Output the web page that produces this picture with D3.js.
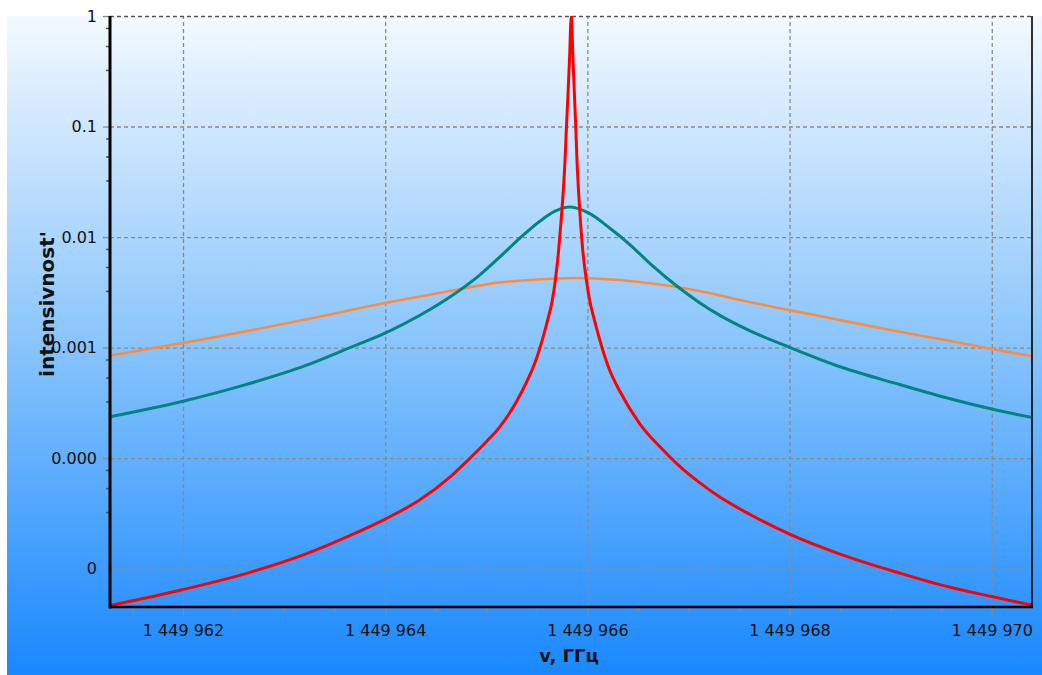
<!DOCTYPE html>
<html><head><meta charset="utf-8">
<script src="https://cdn.jsdelivr.net/npm/d3@7"></script>
<style>html,body{margin:0;padding:0;background:#fff;} svg{display:block}</style>
</head><body><svg id="c" width="1042" height="675"></svg>
<script>
// ---- data ----
const xMajorTicks = [1449962, 1449964, 1449966, 1449968, 1449970];
const xMinorTicks = [1449961.5, 1449962.5, 1449963, 1449963.5, 1449964.5, 1449965, 1449965.5,
  1449966.5, 1449967, 1449967.5, 1449968.5, 1449969, 1449969.5];
const yTicks = [1, 0.1, 0.01, 0.001, 0.0001, 0.00001];
const yTickLabels = ["1", "0.1", "0.01", "0.001", "0.000", "0"];
const yMinorFactors = [0.78, 0.535, 0.325];
const xDomain = [1449961.278, 1449970.398];
const yDomain = [4.49e-6, 1];
const xTitle = "v, ГГц";
const yTitle = "intensivnost'";

const orangeSeries = [
  [1449961.28, 8.47e-4], [1449962.00, 1.10e-3], [1449962.62, 1.40e-3], [1449963.21, 1.79e-3],
  [1449964.01, 2.54e-3], [1449964.64, 3.25e-3], [1449965.14, 3.89e-3], [1449965.43, 4.08e-3],
  [1449965.88, 4.26e-3], [1449966.32, 4.08e-3], [1449966.72, 3.72e-3], [1449967.11, 3.25e-3],
  [1449967.51, 2.69e-3], [1449968.00, 2.18e-3], [1449968.50, 1.77e-3], [1449969.09, 1.39e-3],
  [1449969.58, 1.15e-3], [1449970.00, 9.69e-4], [1449970.39, 8.38e-4]
];
const tealSeries = [
  [1449961.28, 2.365e-4], [1449962.00, 3.266e-4], [1449962.62, 4.617e-4], [1449963.21, 6.858e-4],
  [1449963.65, 9.98e-4], [1449964.01, 1.364e-3], [1449964.34, 1.948e-3], [1449964.64, 2.864e-3],
  [1449964.94, 4.578e-3], [1449965.14, 6.688e-3], [1449965.33, 9.73e-3], [1449965.53, 1.390e-2],
  [1449965.68, 1.712e-2], [1449965.83, 1.868e-2], [1449966.02, 1.635e-2], [1449966.22, 1.206e-2],
  [1449966.42, 8.55e-3], [1449966.62, 5.756e-3], [1449966.91, 3.455e-3], [1449967.11, 2.548e-3],
  [1449967.31, 1.956e-3], [1449967.61, 1.416e-3], [1449968.00, 1.004e-3], [1449968.50, 6.70e-4],
  [1449969.09, 4.627e-4], [1449969.58, 3.455e-4], [1449970.00, 2.776e-4], [1449970.39, 2.340e-4]
];
const redSeries = [
  [1449961.28, 4.627e-6], [1449962.00, 6.457e-6], [1449962.67, 9.297e-6], [1449963.21, 1.353e-5],
  [1449963.65, 1.989e-5], [1449964.01, 2.835e-5], [1449964.34, 4.168e-5], [1449964.64, 6.732e-5],
  [1449964.84, 1.0e-4], [1449965.04, 1.532e-4], [1449965.14, 1.948e-4], [1449965.35, 3.957e-4],
  [1449965.50, 8.120e-4], [1449965.607, 1.774e-3], [1449965.650, 2.580e-3], [1449965.685, 4.168e-3],
  [1449965.714, 7.316e-3], [1449965.739, 1.367e-2], [1449965.759, 2.399e-2], [1449965.779, 4.974e-2],
  [1449965.793, 9.90e-2], [1449965.808, 0.1928], [1449965.823, 0.3997], [1449965.841, 1.0],
  [1449965.858, 0.3997], [1449965.872, 0.1928], [1449965.885, 9.90e-2], [1449965.897, 4.974e-2],
  [1449965.915, 2.399e-2], [1449965.932, 1.367e-2], [1449965.956, 7.316e-3], [1449965.989, 4.168e-3],
  [1449966.026, 2.580e-3], [1449966.070, 1.774e-3], [1449966.22, 6.256e-4], [1449966.32, 4.039e-4],
  [1449966.52, 2.031e-4], [1449966.72, 1.257e-4], [1449966.91, 8.463e-5], [1449967.11, 6.0e-5],
  [1449967.31, 4.438e-5], [1449967.61, 3.082e-5], [1449968.00, 2.052e-5], [1449968.50, 1.353e-5],
  [1449969.09, 9.106e-6], [1449969.58, 6.802e-6], [1449970.00, 5.579e-6], [1449970.39, 4.675e-6]
];

// ---- chart ----
const L = 110, R = 1032, T = 16, B = 607;
const svg = d3.select("#c");
const x = d3.scaleLinear().domain(xDomain).range([L, R]);
const y = d3.scaleLog().domain(yDomain).range([B, T]);
const loc = d3.formatLocale({decimal: ".", thousands: " ", grouping: [3], currency: ["", ""]});
const fmtX = loc.format(",d");

const defs = svg.append("defs");
const grad = defs.append("linearGradient").attr("id", "bg")
  .attr("gradientUnits", "userSpaceOnUse").attr("x1", 0).attr("y1", 16).attr("x2", 0).attr("y2", 675);
grad.append("stop").attr("offset", 0).attr("stop-color", "#f3f9ff");
grad.append("stop").attr("offset", 0.5).attr("stop-color", "#88c4fb");
grad.append("stop").attr("offset", 1).attr("stop-color", "#1988fe");
defs.append("clipPath").attr("id", "plot").append("rect")
  .attr("x", L).attr("y", T).attr("width", R - L).attr("height", B - T);

svg.append("rect").attr("x", 7).attr("y", 16).attr("width", 1042 - 7).attr("height", 675 - 16).attr("fill", "url(#bg)");

// grid
const gridColor = "#8a8a8a";
const gx = svg.append("g").attr("transform", `translate(0,${B})`)
  .call(d3.axisBottom(x).tickValues(xMajorTicks).tickSize(-(B - T)).tickFormat(""));
gx.select(".domain").remove();
gx.selectAll("line").attr("stroke", gridColor).attr("stroke-width", 1.3).attr("stroke-dasharray", "4,3");
const gy = svg.append("g").attr("transform", `translate(${L},0)`)
  .call(d3.axisLeft(y).tickValues(yTicks).tickSize(-(R - L)).tickFormat(""));
gy.select(".domain").remove();
gy.selectAll("line").attr("stroke", gridColor).attr("stroke-width", 1.3).attr("stroke-dasharray", "4,3");
gy.selectAll(".tick").filter(d => d === 1).select("line").attr("stroke", "#555").attr("stroke-width", 1.6);

// curves
const line = d3.line().x(d => x(d[0])).y(d => y(d[1])).curve(d3.curveMonotoneX);
const gc = svg.append("g").attr("clip-path", "url(#plot)");
gc.append("path").datum(orangeSeries).attr("d", line).attr("fill", "none").attr("stroke", "#ff8a3d").attr("stroke-width", 2.6);
gc.append("path").datum(tealSeries).attr("d", line).attr("fill", "none").attr("stroke", "#008580").attr("stroke-width", 3);
gc.append("path").datum(redSeries).attr("d", line).attr("fill", "none").attr("stroke", "#ff0000").attr("stroke-width", 3);

// x axis ticks & labels
const xa = svg.append("g").attr("transform", `translate(0,${B})`)
  .call(d3.axisBottom(x).tickValues(xMajorTicks).tickSize(8).tickPadding(10).tickFormat(d => fmtX(d)));
xa.select(".domain").remove();
xa.selectAll("line").attr("stroke", gridColor).attr("stroke-width", 1.3);
xa.selectAll("text").attr("font-family", "DejaVu Sans").attr("font-size", 16).attr("fill", "#111");
const xm = svg.append("g").attr("transform", `translate(0,${B})`)
  .call(d3.axisBottom(x).tickValues(xMinorTicks).tickSize(5).tickFormat(""));
xm.select(".domain").remove();
xm.selectAll("line").attr("stroke", gridColor).attr("stroke-width", 1.2);

// y axis ticks & labels
const ya = svg.append("g").attr("transform", `translate(${L},0)`)
  .call(d3.axisLeft(y).tickValues(yTicks).tickSize(7).tickPadding(6).tickFormat((d, i) => yTickLabels[i]));
ya.select(".domain").remove();
ya.selectAll("line").attr("stroke", gridColor).attr("stroke-width", 1.3);
ya.selectAll("text").attr("font-family", "DejaVu Sans").attr("font-size", 16).attr("fill", "#111");
const yMinor = [];
yTicks.slice(0, -1).forEach(d => yMinorFactors.forEach(f => yMinor.push(d * f)));
const ym = svg.append("g").attr("transform", `translate(${L},0)`)
  .call(d3.axisLeft(y).tickValues(yMinor).tickSize(4).tickFormat(""));
ym.select(".domain").remove();
ym.selectAll("line").attr("stroke", "#555").attr("stroke-width", 1.5);

// frame
svg.append("line").attr("x1", L).attr("x2", L).attr("y1", T).attr("y2", B + 1.5).attr("stroke", "#000").attr("stroke-width", 3);
svg.append("line").attr("x1", L).attr("x2", R + 1).attr("y1", B).attr("y2", B).attr("stroke", "#000").attr("stroke-width", 2.6);
svg.append("line").attr("x1", R).attr("x2", R).attr("y1", T).attr("y2", B).attr("stroke", "#000").attr("stroke-width", 1.6);

// titles
svg.append("text").attr("x", 569).attr("y", 662).attr("text-anchor", "middle")
  .attr("font-family", "DejaVu Sans").attr("font-weight", "bold").attr("font-size", 18).attr("fill", "#111").text(xTitle);
svg.append("text").attr("transform", "translate(54,304) rotate(-90)").attr("text-anchor", "middle")
  .attr("font-family", "DejaVu Sans").attr("font-weight", "bold").attr("font-size", 20).attr("fill", "#111").text(yTitle);
</script>
</body></html>
